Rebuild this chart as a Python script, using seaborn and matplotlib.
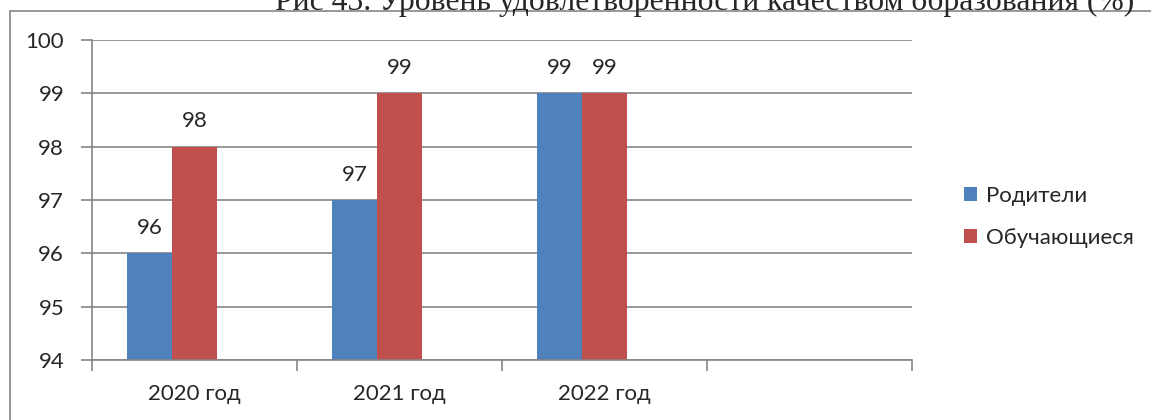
import matplotlib
matplotlib.use("Agg")
import matplotlib.pyplot as plt
import seaborn as sns
import pandas as pd
import numpy as np
from matplotlib.patches import Rectangle, Patch

categories = ["2020 год", "2021 год", "2022 год", " "]
parents = [96, 97, 99, np.nan]
students = [98, 99, 99, np.nan]
series_names = ["Родители", "Обучающиеся", "_blank"]
title = "Рис 43. Уровень удовлетворенности качеством образования (%)"

blank = [np.nan] * len(categories)
df = pd.DataFrame({
    "cat": categories * 3,
    "series": [series_names[0]] * 4 + [series_names[1]] * 4 + [series_names[2]] * 4,
    "val": parents + students + blank,
})

sns.set_style("white")
plt.rcParams["font.family"] = ["Lato", "DejaVu Sans"]
FS = 16

fig = plt.figure(figsize=(11.51, 4.2), dpi=100)
ax = fig.add_axes([92 / 1151, 60 / 420, 820 / 1151, 320 / 420])

colors = {"Родители": "#4F81BD", "Обучающиеся": "#C0504D", "_blank": "#FFFFFF"}
sns.barplot(data=df, x="cat", y="val", hue="series", order=categories,
            hue_order=series_names, palette=colors, width=0.66, dodge=True,
            ax=ax, legend=False, saturation=1, err_kws={"linewidth": 0},
            linewidth=0)

ax.set_ylim(94, 100)
ax.set_xlim(-0.5, len(categories) - 0.5)
ax.set_yticks(range(94, 101))
ax.yaxis.grid(True, color="#868686", linewidth=1.2)
ax.set_axisbelow(True)
for s in ["top", "right"]:
    ax.spines[s].set_visible(False)
for s in ["left", "bottom"]:
    ax.spines[s].set_color("#868686")
    ax.spines[s].set_linewidth(1.2)

# ticks at category boundaries, labels at centers
ax.set_xticks(np.arange(-0.5, len(categories), 1.0))
ax.set_xticklabels([])
ax.set_xticks(range(len(categories)), minor=True)
ax.set_xticklabels(categories, minor=True, fontsize=FS)
ax.tick_params(axis="x", which="major", bottom=True, length=8, width=1.2,
               color="#868686", direction="out")
ax.tick_params(axis="x", which="minor", bottom=True, length=0, pad=17)
ax.tick_params(axis="y", left=True, length=8, width=1.2, color="#868686",
               direction="out", labelsize=FS, pad=12)
ax.set_xlabel("")
ax.set_ylabel("")

for cont in ax.containers[:2]:
    labels = ["" if np.isnan(v) else f"{v:.0f}" for v in cont.datavalues]
    ax.bar_label(cont, labels=labels, padding=11, fontsize=FS)

handles = [Patch(facecolor=colors[n], edgecolor="none") for n in series_names[:2]]
fig.legend(handles, series_names[:2], loc="center left",
           bbox_to_anchor=(944 / 1151, 1 - 217 / 420), frameon=False,
           fontsize=FS, handlelength=0.6, handleheight=0.6, handletextpad=0.4,
           labelspacing=1.0)

# outer frame
fig.patches.append(Rectangle((10 / 1151, -0.1), 1.2, 1.1 - 11 / 420,
                             transform=fig.transFigure, fill=False,
                             edgecolor="#868686", linewidth=1.2))

fig.text(275 / 1151, 1 - 10 / 420, title, family=["Liberation Serif"], fontsize=22.8,
         ha="left", va="baseline")

fig.savefig("out.png", dpi=100)
